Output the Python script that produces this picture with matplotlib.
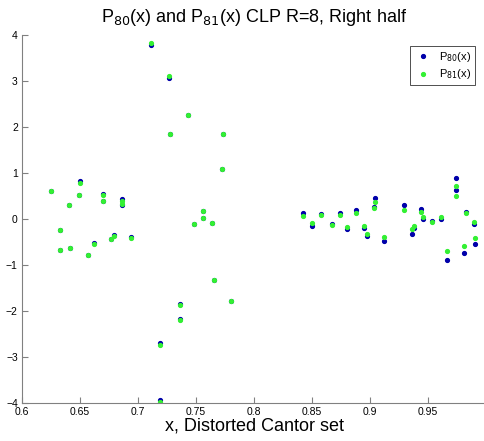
import matplotlib
matplotlib.use("Agg")
import matplotlib.pyplot as plt
import numpy as np

plt.rcParams['font.family'] = ['Liberation Sans', 'DejaVu Sans']

# left cluster
x_left = [0.6249, 0.6326, 0.6330, 0.6403, 0.6417, 0.6491, 0.6497, 0.6571,
          0.6620, 0.6695, 0.6697, 0.6770, 0.6790, 0.6866, 0.6866, 0.6940]
p80_left = [0.61, -0.67, -0.23, 0.30, -0.64, 0.53, 0.82, -0.78,
            -0.52, 0.55, 0.39, -0.44, -0.35, 0.43, 0.30, -0.39]
p81_left = [0.61, -0.67, -0.23, 0.30, -0.64, 0.53, 0.79, -0.78,
            -0.54, 0.53, 0.39, -0.44, -0.37, 0.40, 0.32, -0.41]

# middle cluster
x_mid = [0.7115, 0.7190, 0.7192, 0.7266, 0.7280, 0.7358, 0.7360, 0.7435,
         0.7484, 0.7558, 0.7560, 0.7635, 0.7652, 0.7726, 0.7730, 0.7806]
p80_mid = [3.79, -3.93, -2.70, 3.07, 1.85, -1.85, -2.17, 2.27,
           -0.11, 0.013, 0.165, -0.08, -1.33, 1.09, 1.855, -1.78]
p81_mid = [3.83, -3.98, -2.73, 3.10, 1.85, -1.87, -2.19, 2.27,
           -0.11, 0.013, 0.165, -0.08, -1.33, 1.09, 1.855, -1.78]

# right cluster
x_right = [0.8424, 0.8500, 0.8580, 0.8670, 0.8740, 0.8800, 0.8880, 0.8950,
           0.8970, 0.9037, 0.9045, 0.9120, 0.9290, 0.9365, 0.9380, 0.9440,
           0.9456, 0.9536, 0.9610, 0.9665, 0.9740, 0.9745, 0.9810, 0.9830,
           0.9900, 0.9907]
p80_right = [0.14, -0.16, 0.11, -0.10, 0.12, -0.22, 0.20, -0.20,
             -0.37, 0.27, 0.46, -0.47, 0.30, -0.32, -0.19, 0.22,
             0.01, -0.04, 0.01, -0.885, 0.89, 0.62, -0.74, 0.15,
             -0.11, -0.54]
p81_right = [0.065, -0.09, 0.09, -0.14, 0.09, -0.17, 0.13, -0.15,
             -0.33, 0.24, 0.38, -0.39, 0.195, -0.22, -0.15, 0.15,
             0.04, -0.07, 0.04, -0.70, 0.71, 0.51, -0.595, 0.13,
             -0.07, -0.42]

x = np.array(x_left + x_mid + x_right)
p80 = np.array(p80_left + p80_mid + p80_right)
p81 = np.array(p81_left + p81_mid + p81_right)

fig = plt.figure(figsize=(4.84, 4.41), dpi=100)
ax = fig.add_axes([22 / 484, 38 / 441, 464 / 484, 368 / 441])

ax.plot(x, p80, '.', color='#0000aa', markersize=5.5, label='P$_{80}$(x)')
ax.plot(x, p81, '.', color='#33f033', markersize=5.5, label='P$_{81}$(x)')

ax.set_xlim(0.6, 1.0)
ax.set_ylim(-4, 4)
ax.set_xticks([0.6, 0.65, 0.7, 0.75, 0.8, 0.85, 0.9, 0.95])
ax.set_xticklabels(['0.6', '0.65', '0.7', '0.75', '0.8', '0.85', '0.9', '0.95'])
ax.set_yticks(range(-4, 5))
ax.tick_params(direction='in', length=4, width=0.8, color='#808080',
               labelsize=7.5)
ax.tick_params(axis='x', pad=3)
ax.tick_params(axis='y', pad=3)

for side in ['top', 'right']:
    ax.spines[side].set_visible(False)
for side in ['left', 'bottom']:
    ax.spines[side].set_color('#808080')

ax.set_xlabel('x, Distorted Cantor set', fontsize=13, labelpad=0)
ax.set_title('P$_{80}$(x) and P$_{81}$(x) CLP R=8, Right half', fontsize=13, pad=9)

leg = ax.legend(loc='upper right', bbox_to_anchor=(0.988, 0.986), fontsize=8,
                frameon=True, fancybox=False, edgecolor='black',
                handletextpad=0.5, borderpad=0.35, labelspacing=0.35,
                handlelength=1.8, markerscale=1.0)
leg.get_frame().set_linewidth(0.6)

fig.savefig('out.png', dpi=100)
